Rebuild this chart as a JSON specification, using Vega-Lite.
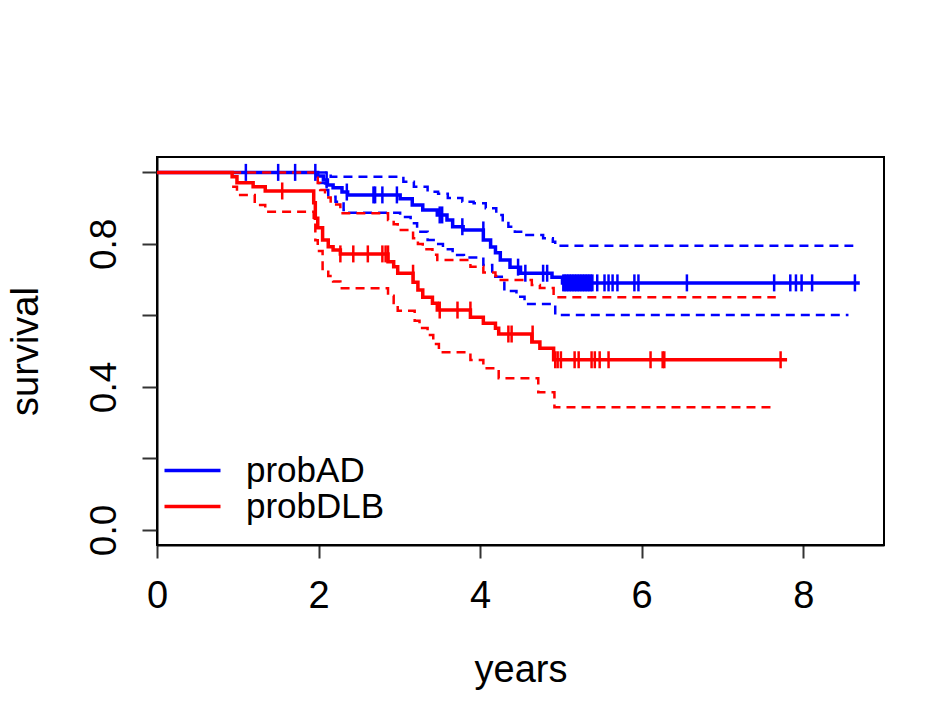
{
  "$schema": "https://vega.github.io/schema/vega-lite/v6.json",
  "width": 727,
  "height": 388,
  "autosize": {"type": "none"},
  "padding": {"left": 157, "top": 157, "right": 56, "bottom": 176},
  "background": "white",
  "config": {
    "font": "Liberation Sans",
    "view": {"stroke": "#000000", "strokeWidth": 2},
    "axis": {"grid": false, "domainColor": "#000", "tickColor": "#333", "labelColor": "#000", "titleColor": "#000", "domainWidth": 2, "tickWidth": 2, "labelFont": "Liberation Sans", "titleFont": "Liberation Sans", "titleFontWeight": "normal"}
  },
  "datasets": {
    "curves": [
      {"group": "probAD", "kind": "est", "t": 0, "s": 1.0},
      {"group": "probAD", "kind": "est", "t": 1.99, "s": 0.99},
      {"group": "probAD", "kind": "est", "t": 2.06, "s": 0.979},
      {"group": "probAD", "kind": "est", "t": 2.11, "s": 0.965},
      {"group": "probAD", "kind": "est", "t": 2.18, "s": 0.957},
      {"group": "probAD", "kind": "est", "t": 2.29, "s": 0.945},
      {"group": "probAD", "kind": "est", "t": 2.36, "s": 0.937},
      {"group": "probAD", "kind": "est", "t": 3.01, "s": 0.926},
      {"group": "probAD", "kind": "est", "t": 3.16, "s": 0.909},
      {"group": "probAD", "kind": "est", "t": 3.29, "s": 0.895},
      {"group": "probAD", "kind": "est", "t": 3.47, "s": 0.881},
      {"group": "probAD", "kind": "est", "t": 3.59, "s": 0.867},
      {"group": "probAD", "kind": "est", "t": 3.66, "s": 0.848},
      {"group": "probAD", "kind": "est", "t": 3.79, "s": 0.839},
      {"group": "probAD", "kind": "est", "t": 4.04, "s": 0.811},
      {"group": "probAD", "kind": "est", "t": 4.13, "s": 0.791},
      {"group": "probAD", "kind": "est", "t": 4.19, "s": 0.775},
      {"group": "probAD", "kind": "est", "t": 4.25, "s": 0.755},
      {"group": "probAD", "kind": "est", "t": 4.37, "s": 0.735},
      {"group": "probAD", "kind": "est", "t": 4.50, "s": 0.718},
      {"group": "probAD", "kind": "est", "t": 4.89, "s": 0.707},
      {"group": "probAD", "kind": "est", "t": 5.02, "s": 0.691},
      {"group": "probAD", "kind": "est", "t": 8.70, "s": 0.691},

      {"group": "probAD", "kind": "hi", "t": 1.99, "s": 1.0},
      {"group": "probAD", "kind": "hi", "t": 2.15, "s": 0.988},
      {"group": "probAD", "kind": "hi", "t": 3.05, "s": 0.974},
      {"group": "probAD", "kind": "hi", "t": 3.18, "s": 0.96},
      {"group": "probAD", "kind": "hi", "t": 3.35, "s": 0.946},
      {"group": "probAD", "kind": "hi", "t": 3.48, "s": 0.94},
      {"group": "probAD", "kind": "hi", "t": 3.60, "s": 0.928},
      {"group": "probAD", "kind": "hi", "t": 3.78, "s": 0.918},
      {"group": "probAD", "kind": "hi", "t": 3.92, "s": 0.914},
      {"group": "probAD", "kind": "hi", "t": 4.07, "s": 0.90},
      {"group": "probAD", "kind": "hi", "t": 4.20, "s": 0.881},
      {"group": "probAD", "kind": "hi", "t": 4.28, "s": 0.862},
      {"group": "probAD", "kind": "hi", "t": 4.35, "s": 0.848},
      {"group": "probAD", "kind": "hi", "t": 4.43, "s": 0.834},
      {"group": "probAD", "kind": "hi", "t": 4.53, "s": 0.825},
      {"group": "probAD", "kind": "hi", "t": 4.78, "s": 0.816},
      {"group": "probAD", "kind": "hi", "t": 4.90, "s": 0.806},
      {"group": "probAD", "kind": "hi", "t": 4.93, "s": 0.795},
      {"group": "probAD", "kind": "hi", "t": 8.62, "s": 0.795},

      {"group": "probAD", "kind": "lo", "t": 1.99, "s": 0.97},
      {"group": "probAD", "kind": "lo", "t": 2.08, "s": 0.951},
      {"group": "probAD", "kind": "lo", "t": 2.12, "s": 0.932},
      {"group": "probAD", "kind": "lo", "t": 2.21, "s": 0.918},
      {"group": "probAD", "kind": "lo", "t": 2.31, "s": 0.895},
      {"group": "probAD", "kind": "lo", "t": 2.36, "s": 0.887},
      {"group": "probAD", "kind": "lo", "t": 3.01, "s": 0.875},
      {"group": "probAD", "kind": "lo", "t": 3.14, "s": 0.858},
      {"group": "probAD", "kind": "lo", "t": 3.22, "s": 0.834},
      {"group": "probAD", "kind": "lo", "t": 3.35, "s": 0.811},
      {"group": "probAD", "kind": "lo", "t": 3.45, "s": 0.80},
      {"group": "probAD", "kind": "lo", "t": 3.54, "s": 0.785},
      {"group": "probAD", "kind": "lo", "t": 3.66, "s": 0.769},
      {"group": "probAD", "kind": "lo", "t": 3.80, "s": 0.762},
      {"group": "probAD", "kind": "lo", "t": 4.04, "s": 0.741},
      {"group": "probAD", "kind": "lo", "t": 4.15, "s": 0.708},
      {"group": "probAD", "kind": "lo", "t": 4.30, "s": 0.668},
      {"group": "probAD", "kind": "lo", "t": 4.45, "s": 0.652},
      {"group": "probAD", "kind": "lo", "t": 4.55, "s": 0.632},
      {"group": "probAD", "kind": "lo", "t": 4.93, "s": 0.601},
      {"group": "probAD", "kind": "lo", "t": 8.56, "s": 0.601},

      {"group": "probDLB", "kind": "est", "t": 0, "s": 1.0},
      {"group": "probDLB", "kind": "est", "t": 0.93, "s": 0.988},
      {"group": "probDLB", "kind": "est", "t": 0.99, "s": 0.971},
      {"group": "probDLB", "kind": "est", "t": 1.19, "s": 0.96},
      {"group": "probDLB", "kind": "est", "t": 1.34, "s": 0.948},
      {"group": "probDLB", "kind": "est", "t": 1.94, "s": 0.915},
      {"group": "probDLB", "kind": "est", "t": 1.96, "s": 0.872},
      {"group": "probDLB", "kind": "est", "t": 1.99, "s": 0.845},
      {"group": "probDLB", "kind": "est", "t": 2.05, "s": 0.811},
      {"group": "probDLB", "kind": "est", "t": 2.12, "s": 0.792},
      {"group": "probDLB", "kind": "est", "t": 2.18, "s": 0.783},
      {"group": "probDLB", "kind": "est", "t": 2.27, "s": 0.772},
      {"group": "probDLB", "kind": "est", "t": 2.86, "s": 0.750},
      {"group": "probDLB", "kind": "est", "t": 2.93, "s": 0.736},
      {"group": "probDLB", "kind": "est", "t": 2.98, "s": 0.718},
      {"group": "probDLB", "kind": "est", "t": 3.17, "s": 0.693},
      {"group": "probDLB", "kind": "est", "t": 3.23, "s": 0.671},
      {"group": "probDLB", "kind": "est", "t": 3.29, "s": 0.651},
      {"group": "probDLB", "kind": "est", "t": 3.41, "s": 0.634},
      {"group": "probDLB", "kind": "est", "t": 3.47, "s": 0.615},
      {"group": "probDLB", "kind": "est", "t": 3.88, "s": 0.595},
      {"group": "probDLB", "kind": "est", "t": 4.04, "s": 0.578},
      {"group": "probDLB", "kind": "est", "t": 4.19, "s": 0.564},
      {"group": "probDLB", "kind": "est", "t": 4.23, "s": 0.548},
      {"group": "probDLB", "kind": "est", "t": 4.64, "s": 0.526},
      {"group": "probDLB", "kind": "est", "t": 4.74, "s": 0.508},
      {"group": "probDLB", "kind": "est", "t": 4.91, "s": 0.476},
      {"group": "probDLB", "kind": "est", "t": 7.80, "s": 0.476},

      {"group": "probDLB", "kind": "hi", "t": 0.93, "s": 1.0},
      {"group": "probDLB", "kind": "hi", "t": 1.96, "s": 0.985},
      {"group": "probDLB", "kind": "hi", "t": 1.99, "s": 0.97},
      {"group": "probDLB", "kind": "hi", "t": 2.02, "s": 0.951},
      {"group": "probDLB", "kind": "hi", "t": 2.08, "s": 0.93},
      {"group": "probDLB", "kind": "hi", "t": 2.15, "s": 0.91},
      {"group": "probDLB", "kind": "hi", "t": 2.27, "s": 0.886},
      {"group": "probDLB", "kind": "hi", "t": 2.86, "s": 0.867},
      {"group": "probDLB", "kind": "hi", "t": 2.93, "s": 0.855},
      {"group": "probDLB", "kind": "hi", "t": 2.98, "s": 0.839},
      {"group": "probDLB", "kind": "hi", "t": 3.17, "s": 0.816},
      {"group": "probDLB", "kind": "hi", "t": 3.23, "s": 0.80},
      {"group": "probDLB", "kind": "hi", "t": 3.29, "s": 0.785},
      {"group": "probDLB", "kind": "hi", "t": 3.41, "s": 0.77},
      {"group": "probDLB", "kind": "hi", "t": 3.47, "s": 0.755},
      {"group": "probDLB", "kind": "hi", "t": 3.88, "s": 0.736},
      {"group": "probDLB", "kind": "hi", "t": 4.04, "s": 0.72},
      {"group": "probDLB", "kind": "hi", "t": 4.19, "s": 0.71},
      {"group": "probDLB", "kind": "hi", "t": 4.23, "s": 0.699},
      {"group": "probDLB", "kind": "hi", "t": 4.64, "s": 0.685},
      {"group": "probDLB", "kind": "hi", "t": 4.74, "s": 0.677},
      {"group": "probDLB", "kind": "hi", "t": 4.91, "s": 0.651},
      {"group": "probDLB", "kind": "hi", "t": 7.66, "s": 0.651},

      {"group": "probDLB", "kind": "lo", "t": 0.93, "s": 0.96},
      {"group": "probDLB", "kind": "lo", "t": 0.99, "s": 0.937},
      {"group": "probDLB", "kind": "lo", "t": 1.21, "s": 0.909},
      {"group": "probDLB", "kind": "lo", "t": 1.34, "s": 0.89},
      {"group": "probDLB", "kind": "lo", "t": 1.94, "s": 0.86},
      {"group": "probDLB", "kind": "lo", "t": 1.96, "s": 0.81},
      {"group": "probDLB", "kind": "lo", "t": 1.99, "s": 0.78},
      {"group": "probDLB", "kind": "lo", "t": 2.05, "s": 0.73},
      {"group": "probDLB", "kind": "lo", "t": 2.12, "s": 0.71},
      {"group": "probDLB", "kind": "lo", "t": 2.18, "s": 0.695},
      {"group": "probDLB", "kind": "lo", "t": 2.27, "s": 0.676},
      {"group": "probDLB", "kind": "lo", "t": 2.86, "s": 0.655},
      {"group": "probDLB", "kind": "lo", "t": 2.93, "s": 0.635},
      {"group": "probDLB", "kind": "lo", "t": 2.98, "s": 0.613},
      {"group": "probDLB", "kind": "lo", "t": 3.19, "s": 0.585},
      {"group": "probDLB", "kind": "lo", "t": 3.25, "s": 0.565},
      {"group": "probDLB", "kind": "lo", "t": 3.35, "s": 0.545},
      {"group": "probDLB", "kind": "lo", "t": 3.42, "s": 0.52},
      {"group": "probDLB", "kind": "lo", "t": 3.49, "s": 0.497},
      {"group": "probDLB", "kind": "lo", "t": 3.88, "s": 0.475},
      {"group": "probDLB", "kind": "lo", "t": 4.04, "s": 0.452},
      {"group": "probDLB", "kind": "lo", "t": 4.23, "s": 0.424},
      {"group": "probDLB", "kind": "lo", "t": 4.72, "s": 0.385},
      {"group": "probDLB", "kind": "lo", "t": 4.92, "s": 0.343},
      {"group": "probDLB", "kind": "lo", "t": 7.62, "s": 0.343}
    ],
    "censor": [
      {"group": "probAD", "t": 1.10, "s": 1.0},
      {"group": "probAD", "t": 1.50, "s": 1.0},
      {"group": "probAD", "t": 1.71, "s": 1.0},
      {"group": "probAD", "t": 1.96, "s": 1.0},
      {"group": "probAD", "t": 2.10, "s": 0.979},
      {"group": "probAD", "t": 2.35, "s": 0.945},
      {"group": "probAD", "t": 2.68, "s": 0.937},
      {"group": "probAD", "t": 2.70, "s": 0.937},
      {"group": "probAD", "t": 2.79, "s": 0.937},
      {"group": "probAD", "t": 2.97, "s": 0.937},
      {"group": "probAD", "t": 3.50, "s": 0.881},
      {"group": "probAD", "t": 3.53, "s": 0.881},
      {"group": "probAD", "t": 3.78, "s": 0.848},
      {"group": "probAD", "t": 4.04, "s": 0.839},
      {"group": "probAD", "t": 4.47, "s": 0.735},
      {"group": "probAD", "t": 4.56, "s": 0.718},
      {"group": "probAD", "t": 4.78, "s": 0.718},
      {"group": "probAD", "t": 4.83, "s": 0.718},
      {"group": "probAD", "t": 5.03, "s": 0.691},
      {"group": "probAD", "t": 5.05, "s": 0.691},
      {"group": "probAD", "t": 5.07, "s": 0.691},
      {"group": "probAD", "t": 5.09, "s": 0.691},
      {"group": "probAD", "t": 5.11, "s": 0.691},
      {"group": "probAD", "t": 5.13, "s": 0.691},
      {"group": "probAD", "t": 5.15, "s": 0.691},
      {"group": "probAD", "t": 5.17, "s": 0.691},
      {"group": "probAD", "t": 5.19, "s": 0.691},
      {"group": "probAD", "t": 5.21, "s": 0.691},
      {"group": "probAD", "t": 5.23, "s": 0.691},
      {"group": "probAD", "t": 5.25, "s": 0.691},
      {"group": "probAD", "t": 5.27, "s": 0.691},
      {"group": "probAD", "t": 5.29, "s": 0.691},
      {"group": "probAD", "t": 5.31, "s": 0.691},
      {"group": "probAD", "t": 5.33, "s": 0.691},
      {"group": "probAD", "t": 5.35, "s": 0.691},
      {"group": "probAD", "t": 5.37, "s": 0.691},
      {"group": "probAD", "t": 5.39, "s": 0.691},
      {"group": "probAD", "t": 5.45, "s": 0.691},
      {"group": "probAD", "t": 5.54, "s": 0.691},
      {"group": "probAD", "t": 5.59, "s": 0.691},
      {"group": "probAD", "t": 5.64, "s": 0.691},
      {"group": "probAD", "t": 5.70, "s": 0.691},
      {"group": "probAD", "t": 5.91, "s": 0.691},
      {"group": "probAD", "t": 5.96, "s": 0.691},
      {"group": "probAD", "t": 6.56, "s": 0.691},
      {"group": "probAD", "t": 7.64, "s": 0.691},
      {"group": "probAD", "t": 7.84, "s": 0.691},
      {"group": "probAD", "t": 7.91, "s": 0.691},
      {"group": "probAD", "t": 7.98, "s": 0.691},
      {"group": "probAD", "t": 8.11, "s": 0.691},
      {"group": "probAD", "t": 8.64, "s": 0.691},

      {"group": "probDLB", "t": 1.55, "s": 0.948},
      {"group": "probDLB", "t": 2.27, "s": 0.772},
      {"group": "probDLB", "t": 2.43, "s": 0.772},
      {"group": "probDLB", "t": 2.61, "s": 0.772},
      {"group": "probDLB", "t": 2.79, "s": 0.772},
      {"group": "probDLB", "t": 2.83, "s": 0.772},
      {"group": "probDLB", "t": 2.86, "s": 0.772},
      {"group": "probDLB", "t": 3.17, "s": 0.718},
      {"group": "probDLB", "t": 3.50, "s": 0.615},
      {"group": "probDLB", "t": 3.72, "s": 0.615},
      {"group": "probDLB", "t": 3.88, "s": 0.615},
      {"group": "probDLB", "t": 4.35, "s": 0.548},
      {"group": "probDLB", "t": 4.39, "s": 0.548},
      {"group": "probDLB", "t": 4.65, "s": 0.548},
      {"group": "probDLB", "t": 4.93, "s": 0.476},
      {"group": "probDLB", "t": 4.96, "s": 0.476},
      {"group": "probDLB", "t": 5.00, "s": 0.476},
      {"group": "probDLB", "t": 5.17, "s": 0.476},
      {"group": "probDLB", "t": 5.22, "s": 0.476},
      {"group": "probDLB", "t": 5.38, "s": 0.476},
      {"group": "probDLB", "t": 5.42, "s": 0.476},
      {"group": "probDLB", "t": 5.48, "s": 0.476},
      {"group": "probDLB", "t": 5.59, "s": 0.476},
      {"group": "probDLB", "t": 6.11, "s": 0.476},
      {"group": "probDLB", "t": 6.26, "s": 0.476},
      {"group": "probDLB", "t": 6.28, "s": 0.476},
      {"group": "probDLB", "t": 7.72, "s": 0.476}
    ]
  },
  "layer": [
    {
      "data": {"name": "curves"},
      "transform": [{"filter": "datum.kind == 'est'"}],
      "mark": {"type": "line", "interpolate": "step-after", "strokeWidth": 3.5},
      "encoding": {
        "x": {"field": "t", "type": "quantitative", "scale": {"domain": [0, 9.0], "nice": false, "zero": false},
              "axis": {"values": [0, 2, 4, 6, 8], "format": "d", "title": "years", "labelFontSize": 38, "titleFontSize": 38, "tickSize": 13, "labelPadding": 19, "titlePadding": 36, "labelFlush": false}},
        "y": {"field": "s", "type": "quantitative", "scale": {"domain": [-0.042, 1.043], "nice": false, "zero": false},
              "axis": {"values": [0, 0.2, 0.4, 0.6, 0.8, 1.0], "title": "survival", "labelFontSize": 37, "titleFontSize": 38, "tickSize": 15, "labelAngle": -90, "labelAlign": "center", "labelBaseline": "alphabetic", "labelPadding": 27, "titlePadding": 40,
                       "labelExpr": "(abs(datum.value) < 0.01 || abs(datum.value - 0.4) < 0.01 || abs(datum.value - 0.8) < 0.01) ? format(datum.value, '.1f') : ''"}},
        "color": {"field": "group", "type": "nominal", "scale": {"domain": ["probAD", "probDLB"], "range": ["#0000FF", "#FF0000"]},
                  "legend": {"orient": "none", "legendX": 18, "legendY": 296, "title": null, "symbolType": "M-4,0H4", "symbolSize": 196, "symbolStrokeWidth": 3.5, "labelFontSize": 35, "labelFont": "Liberation Sans", "labelColor": "#000", "labelOffset": 36, "rowPadding": -1, "padding": 0, "symbolOffset": 0}}
      }
    },
    {
      "data": {"name": "curves"},
      "transform": [{"filter": "datum.kind != 'est'"}],
      "mark": {"type": "line", "interpolate": "step-after", "strokeWidth": 2.5, "strokeDash": [9, 6]},
      "encoding": {
        "x": {"field": "t", "type": "quantitative"},
        "y": {"field": "s", "type": "quantitative"},
        "color": {"field": "group", "type": "nominal"},
        "detail": {"field": "kind"}
      }
    },
    {
      "data": {"name": "censor"},
      "mark": {"type": "tick", "orient": "vertical", "size": 17, "thickness": 2.5, "opacity": 1},
      "encoding": {
        "x": {"field": "t", "type": "quantitative"},
        "y": {"field": "s", "type": "quantitative"},
        "color": {"field": "group", "type": "nominal"}
      }
    }
  ]
}
